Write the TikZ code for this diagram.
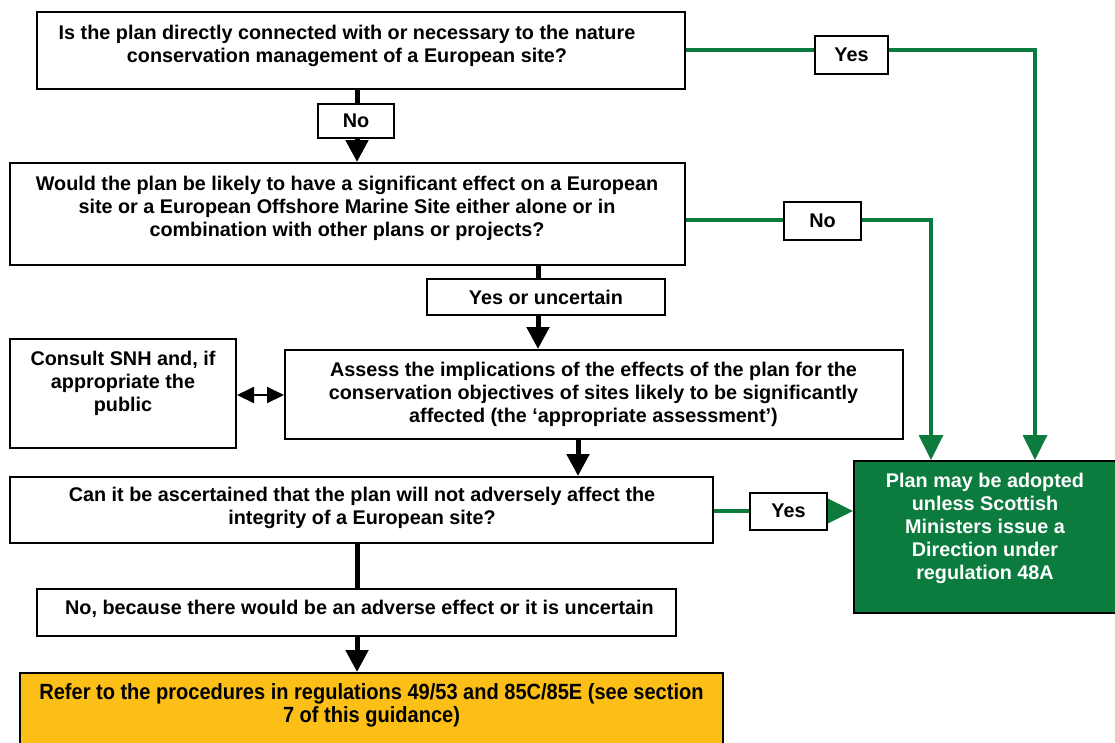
\documentclass[tikz,border=0pt]{standalone}
\usepackage{fontspec}
\setmainfont{Liberation Sans}
\newfontfamily\narrowfont[FakeStretch=0.91]{Liberation Sans}
\usetikzlibrary{arrows.meta}
\definecolor{ggreen}{HTML}{0B7B3E}
\definecolor{gorange}{HTML}{FBBF17}
\tikzset{
  x=1pt, y=-1pt,
  box/.style={draw=black, line width=2pt, fill=white, inner sep=0pt, rectangle},
  txt/.style={align=center, inner sep=0pt, font=\fontsize{19.8}{23}\selectfont\bfseries},
  lbl/.style={box, font=\fontsize{19.8}{23}\selectfont\bfseries},
  bline/.style={draw=black, line width=5pt},
  barrow/.style={draw=black, line width=5pt, -{Triangle[width=22pt,length=22pt]}},
  gline/.style={draw=ggreen, line width=3.5pt},
  garrow/.style={draw=ggreen, line width=3.5pt, -{Triangle[width=24pt,length=25pt]}},
  dblarrow/.style={draw=black, line width=2pt, {Triangle[width=16pt,length=17pt]}-{Triangle[width=16pt,length=17pt]}},
}
\begin{document}
\begin{tikzpicture}
\useasboundingbox[fill=white] (0,0) rectangle (1115,742);

% coordinates for vertical connectors
\coordinate (xa) at (538,0);
\coordinate (xb) at (578,0);
\coordinate (xc) at (357,0);
\coordinate (c1) at (1035,50);
\coordinate (c2) at (931,220);

% boxes
\node[box, minimum width=648, minimum height=77] (b1) at (361,50.5) {};
\node[box, minimum width=675, minimum height=102] (b2) at (347.5,214) {};
\node[box, minimum width=226, minimum height=109] (cs) at (123,393.5) {};
\node[box, minimum width=618, minimum height=89] (b3) at (594,394.5) {};
\node[box, minimum width=703, minimum height=66] (b4) at (361.5,510) {};
\node[box, minimum width=639, minimum height=47] (nb) at (356.5,612.5) {};
\node[box, fill=gorange, minimum width=703, minimum height=80] (or) at (371.5,713) {};
\node[box, fill=ggreen, minimum width=263, minimum height=152] (gr) at (985.5,537) {};

% texts
\node[txt] (t1) at (347,45.5) {Is the plan directly connected with or necessary to the nature\\conservation management of a European site?};
\node[txt] (t2) at (347,208) {Would the plan be likely to have a significant effect on a European\\site or a European Offshore Marine Site either alone or in\\combination with other plans or projects?};
\node[txt] (tcs) at (123,383) {Consult SNH and, if\\appropriate the\\public};
\node[txt] (t3) at (593.5,394) {Assess the implications of the effects of the plan for the\\conservation objectives of sites likely to be significantly\\affected (the ‘appropriate assessment’)};
\node[txt] (t4) at (362,507.5) {Can it be ascertained that the plan will not adversely affect the\\integrity of a European site?};
\node[txt] (tnb) at (359.5,609) {No, because there would be an adverse effect or it is uncertain};
\node[txt, font=\fontsize{22}{23}\narrowfont\bfseries] (tor) at (371.5,705.5) {Refer to the procedures in regulations 49/53 and 85C/85E (see section\\7 of this guidance)};
\node[txt, text=white] (tgr) at (985,528) {Plan may be adopted\\unless Scottish\\Ministers issue a\\Direction under\\regulation 48A};

% black connectors
\node[lbl, minimum width=76, minimum height=34] (no1) at (356,121) {No};
\draw[bline] (b1.south -| xc) -- (no1.north -| xc);
\draw[barrow] (no1.south -| xc) -- (b2.north -| xc);

\node[lbl, minimum width=238, minimum height=36] (yu) at (546,297) {Yes or uncertain};
\draw[bline] (b2.south -| xa) -- (yu.north -| xa);
\draw[barrow] (yu.south -| xa) -- (b3.north -| xa);

\draw[dblarrow] (cs.east |- 0,395) -- (b3.west |- 0,395);

\draw[barrow] (b3.south -| xb) -- (b4.north -| xb);

\draw[bline] (b4.south -| xc) -- (nb.north -| xc);
\draw[barrow] (nb.south -| xc) -- (or.north -| xc);

% green connectors
\node[lbl, minimum width=73, minimum height=38] (yes1) at (851.5,55) {Yes};
\draw[gline] (b1.east |- c1) -- (yes1.west |- c1);
\draw[garrow] (yes1.east |- c1) -- (c1) -- (gr.north -| c1);

\node[lbl, minimum width=77, minimum height=38] (no2) at (822.5,221) {No};
\draw[gline] (b2.east |- c2) -- (no2.west |- c2);
\draw[garrow] (no2.east |- c2) -- (c2) -- (gr.north -| c2);

\node[lbl, minimum width=77, minimum height=37] (yes3) at (788.5,511) {Yes};
\draw[gline] (b4.east |- yes3) -- (yes3.west);
\draw[garrow] (yes3.east) -- (gr.west |- yes3);
\end{tikzpicture}
\end{document}
